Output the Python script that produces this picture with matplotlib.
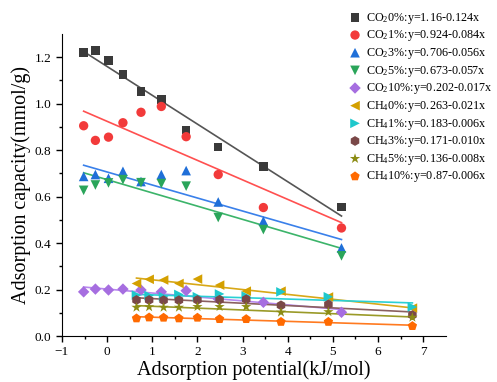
import matplotlib.pyplot as plt
import numpy as np

plt.rcParams['font.family'] = 'Liberation Serif'
plt.rcParams['mathtext.fontset'] = 'custom'
plt.rcParams['mathtext.rm'] = 'Liberation Serif'
plt.rcParams['mathtext.it'] = 'Liberation Serif:italic'

# adsorption potential (kJ/mol) for the CO2 and CH4 runs
x_co2 = [-0.52, -0.26, 0.03, 0.35, 0.75, 1.20, 1.75, 2.46, 3.46, 5.19]
x_ch4 = [0.65, 0.93, 1.25, 1.59, 2.00, 2.49, 3.08, 3.85, 4.90, 6.76]

# adsorption capacity (mmol/g)
co2_0 = [1.220, 1.230, 1.186, 1.126, 1.053, 1.018, 0.887, 0.814, 0.730, 0.556]
co2_1 = [0.905, 0.842, 0.856, 0.918, 0.963, 0.988, 0.858, 0.695, 0.553, 0.465]
co2_3 = [0.687, 0.695, 0.679, 0.709, 0.665, 0.695, 0.712, 0.577, 0.495, 0.379]
co2_5 = [0.627, 0.650, 0.659, 0.673, 0.660, 0.656, 0.645, 0.510, 0.458, 0.345]
co2_10 = [0.190, 0.202, 0.198, 0.202, 0.198, 0.190, 0.195, 0.160, 0.145, 0.102]
ch4_0 = [0.226, 0.244, 0.241, 0.226, 0.245, 0.219, 0.193, 0.193, 0.168, 0.120]
ch4_1 = [0.176, 0.174, 0.169, 0.179, 0.169, 0.181, 0.172, 0.190, 0.169, 0.125]
ch4_3 = [0.155, 0.155, 0.154, 0.154, 0.155, 0.156, 0.158, 0.132, 0.136, 0.090]
ch4_5 = [0.123, 0.125, 0.123, 0.123, 0.126, 0.126, 0.126, 0.102, 0.104, 0.080]
ch4_10 = [0.076, 0.080, 0.079, 0.076, 0.079, 0.073, 0.073, 0.061, 0.061, 0.043]

# linear fits y = a - b*x
intercepts = [1.16, 0.924, 0.706, 0.673, 0.202, 0.263, 0.183, 0.171, 0.136, 0.087]
slopes = [0.124, 0.084, 0.056, 0.057, 0.017, 0.021, 0.006, 0.010, 0.008, 0.006]

labels = ['CO$_2$0%:y=1.16-0.124x', 'CO$_2$1%:y=0.924-0.084x',
          'CO$_2$3%:y=0.706-0.056x', 'CO$_2$5%:y=0.673-0.057x',
          'CO$_2$10%:y=0.202-0.017x', 'CH$_4$0%:y=0.263-0.021x',
          'CH$_4$1%:y=0.183-0.006x', 'CH$_4$3%:y=0.171-0.010x',
          'CH$_4$5%:y=0.136-0.008x', 'CH$_4$10%:y=0.87-0.006x']

series = [(x_co2, co2_0), (x_co2, co2_1), (x_co2, co2_3), (x_co2, co2_5),
          (x_co2, co2_10), (x_ch4, ch4_0), (x_ch4, ch4_1), (x_ch4, ch4_3),
          (x_ch4, ch4_5), (x_ch4, ch4_10)]

colors = ['#3a3a3a', '#f23a3a', '#1f6fd8', '#2aa55a', '#a66ee0',
          '#d4a000', '#1ec8cc', '#7a4848', '#8c8c14', '#ff6a00']
line_colors = ['#555555', '#ff5050', '#3a80ea', '#3cb46a', '#b888ee',
               '#d8a818', '#2ad0d4', '#8a6060', '#9a9a28', '#ff7a20']
markers = ['s', 'o', '^', 'v', 'D', '<', '>', 'h', '*', 'p']
sizes = [38, 45, 48, 48, 34, 48, 48, 50, 60, 50]

fig = plt.figure(figsize=(4.97, 3.82), dpi=100)
ax = fig.add_axes([0.1247, 0.1204, 0.7723, 0.7906])

for i in range(len(series)):
    x, y = series[i]
    xl = np.array([x[0], x[-1]])
    ax.plot(xl, intercepts[i] - slopes[i] * xl, color=line_colors[i], lw=1.2, zorder=2)
for i in range(len(series)):
    x, y = series[i]
    ax.scatter(x, y, marker=markers[i], s=sizes[i], color=colors[i],
               edgecolors='none', label=labels[i], zorder=3)

ax.set_xlim(-1, 7.5)
ax.set_ylim(0, 1.3)
ax.set_xticks(range(-1, 8))
ax.set_xticks(np.arange(-0.5, 7.5, 0.5), minor=True)
ax.set_yticks([0.0, 0.2, 0.4, 0.6, 0.8, 1.0, 1.2])
ax.set_yticklabels(['0.0', '0.2', '0.4', '0.6', '0.8', '1.0', '1.2'])
ax.set_yticks(np.arange(0.1, 1.3, 0.1), minor=True)
ax.spines['top'].set_visible(False)
ax.spines['right'].set_visible(False)
ax.tick_params(which='major', length=4, width=1, labelsize=9.5, direction='out')
ax.tick_params(which='minor', length=2.5, width=1, direction='out')

ax.set_xlabel('Adsorption potential(kJ/mol)', fontsize=14.5, labelpad=1)
ax.set_ylabel('Adsorption capacity(mmol/g)', fontsize=14.5, labelpad=3)

fig.legend(loc='upper left', bbox_to_anchor=(0.69, 0.985), frameon=False,
           fontsize=8.7, handletextpad=0.3, labelspacing=0.22,
           handlelength=1.2, borderaxespad=0)

plt.savefig('out.png')
